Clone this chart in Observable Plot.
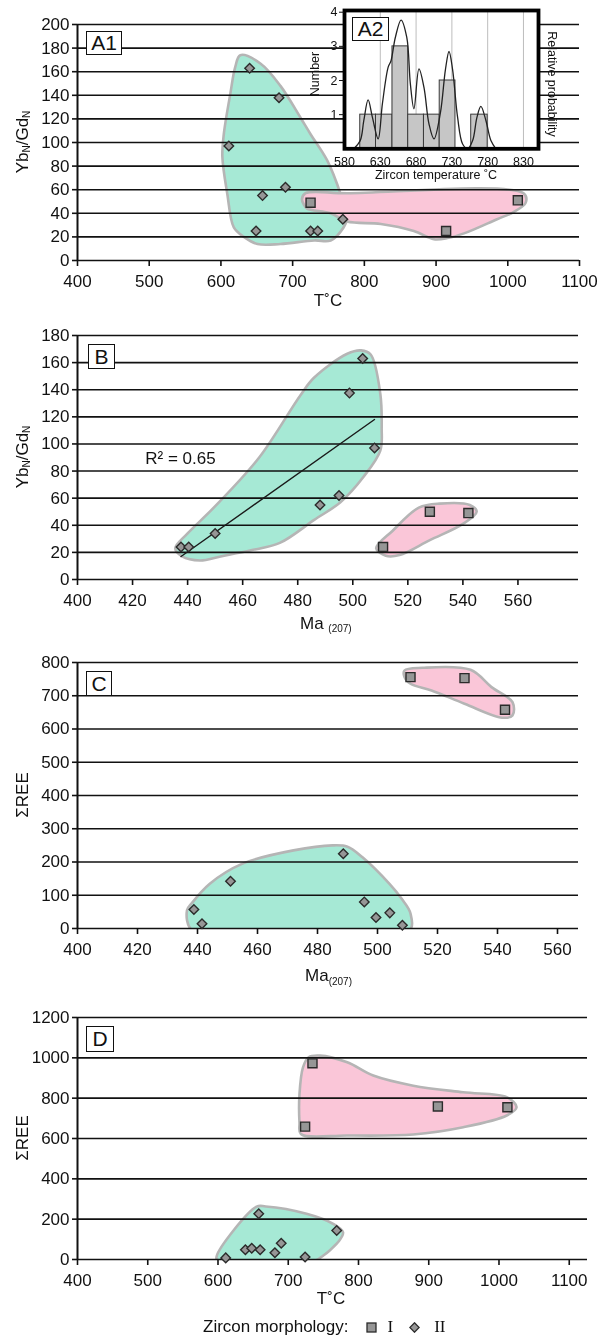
<!DOCTYPE html>
<html>
<head>
<meta charset="utf-8">
<script src="https://cdn.jsdelivr.net/npm/d3@7"></script>
<script src="https://cdn.jsdelivr.net/npm/@observablehq/plot@0.6"></script>
<style>
  html, body { margin: 0; padding: 0; background: #fff; }
  #wrap { position: relative; width: 599px; height: 1337px; overflow: hidden;
          font-family: "Liberation Sans", Arial, Helvetica, sans-serif; color: #111; }
  .panel { position: absolute; left: 0; }
  .panel svg { display: block; }
  .tag { position: absolute; box-sizing: border-box; border: 1.6px solid #111; background: #fff;
         font-size: 21px; display: flex; align-items: center; justify-content: center; }
  #legend { position: absolute; left: 203px; top: 1316px; height: 22px; font-size: 17px;
            display: flex; align-items: center; white-space: nowrap; }
  .roman { font-family: "Liberation Serif", "DejaVu Serif", serif; }
</style>
</head>
<body>
<div id="wrap"></div>
<script>
// ================= DATA =================
// ---- Panel A1: Yb_N/Gd_N vs T(°C)
const a1XTicks = [400, 500, 600, 700, 800, 900, 1000, 1100];
const a1YTicks = [0, 20, 40, 60, 80, 100, 120, 140, 160, 180, 200];
const a1DiamondT  = [611, 640, 649, 658, 681, 690, 725, 735, 770];
const a1DiamondYb = [97, 163, 25, 55, 138, 62, 25, 25, 35];
const a1SquareT   = [725, 914, 1014];
const a1SquareYb  = [49, 25, 51];
const a1GreenHull = [[627,174],[655,167],[683,148],[711,121],[725,107],[748,85],[767,56],[776,36],[771,28],[753,17],[730,17],[683,14],[651,14],[632,20],[618,28],[609,56],[602,88],[604,107],[613,141],[620,164]];
const a1PinkHull  = [[713,52],[718,57],[776,57],[1022,57],[1025,49],[1008,41],[985,35],[939,23],[916,19],[897,18],[869,25],[823,31],[776,33],[753,40],[720,44],[716,47]];

// ---- Panel A2 (inset): zircon temperature histogram + probability curve
const a2XTicks = [580, 630, 680, 730, 780, 830];
const a2YTicks = [1, 2, 3, 4];
const a2BinStart = [602, 624, 647, 669, 691, 713, 757];
const a2BinEnd   = [624, 647, 669, 691, 713, 735, 780];
const a2Count    = [1, 1, 3, 1, 1, 2, 1];
const a2CurveT = [593, 602, 607, 613, 619, 627, 633, 641, 645, 651, 659, 667, 672, 677, 684, 691, 698, 705, 714, 721, 726, 731, 738, 745, 752, 759, 765, 770.5, 777.5, 784.5, 791.5];
const a2CurveP = [0, 0.24, 0.83, 1.43, 0.92, 0.29, 1.33, 2.39, 2.58, 3.26, 3.77, 3.26, 1.9, 1.17, 2.34, 1.8, 0.73, 0.29, 1.06, 2.32, 2.85, 2.32, 0.92, 0.14, 0, 0.24, 0.92, 1.24, 0.83, 0.24, 0];

// ---- Panel B: Yb_N/Gd_N vs Ma(207)
const bXTicks = [400, 420, 440, 460, 480, 500, 520, 540, 560];
const bYTicks = [0, 20, 40, 60, 80, 100, 120, 140, 160, 180];
const bDiamondAge = [437.6, 440.4, 450, 488.1, 495, 498.8, 503.6, 507.9];
const bDiamondYb  = [24, 24, 34, 55, 62, 137.5, 163, 97];
const bSquareAge  = [511, 528, 542];
const bSquareYb   = [24, 50, 49];
const bGreenHull = [[435.5,23],[440,34],[449.5,53],[466,90],[481,136],[486,149],[498,166.5],[503,169],[506.5,166],[510,137],[510.5,112],[510,95],[504,76],[495.5,57],[486,44],[473.5,27],[463,21.5],[452,17],[444.5,14],[438,17]];
const bPinkHull  = [[508.5,23],[512,17.5],[517,18],[528,29],[540,41],[545,50],[542.5,55],[531.5,56],[524,53],[514.5,36]];
const bR2Label = "R² = 0.65";

// ---- Panel C: ΣREE vs Ma(207)
const cXTicks = [400, 420, 440, 460, 480, 500, 520, 540, 560];
const cYTicks = [0, 100, 200, 300, 400, 500, 600, 700, 800];
const cDiamondAge = [438.8, 441.5, 451, 488.6, 495.6, 499.5, 504.1, 508.3];
const cDiamondREE = [57, 14, 142, 225, 80, 33, 47, 10];
const cSquareAge  = [511, 529, 542.5];
const cSquareREE  = [756, 753, 658];
const cGreenHull = [[438.5,-8],[436.5,55],[438,75],[444,134],[455,195],[472,235],[485,250],[490,246],[495,214],[504,134],[508,90],[511,45],[510.5,-8]];
const cPinkHull  = [[509,776],[515,784],[531,778],[538,726],[545,681],[545,641],[541.5,634],[529,676],[518,716],[511,736],[509,756]];

// ---- Panel D: ΣREE vs T(°C)
const dXTicks = [400, 500, 600, 700, 800, 900, 1000, 1100];
const dYTicks = [0, 200, 400, 600, 800, 1000, 1200];
const dDiamondT   = [611, 639, 648, 660, 658, 681, 690, 724, 769];
const dDiamondREE = [8, 48, 56, 48, 227, 33, 81, 12, 144];
const dSquareT    = [734.5, 913, 1012, 724];
const dSquareREE  = [973, 759, 755, 659];
const dGreenHull = [[600,-10],[598,15],[655,262],[668,263],[726,227],[764,177],[778,135],[773,95],[759,45],[750,20],[735,-10]];
const dPinkHull  = [[729,1003],[745,1011],[784,978],[821,912],[878,862],[949,829],[1011,805],[1025,755],[1011,714],[949,656],[878,620],[784,615],[718,622],[716,680],[716,820],[721,953]];

// ---- Legend
const legendTitle = "Zircon morphology:";
const morphologyLabels = ["I", "II"];

// ================= STYLE =================
const FONT = '"Liberation Sans", Arial, Helvetica, sans-serif';
const INK = "#111";
const GREEN = "#a6e9d5", PINK = "#fac6d8", HULL_STROKE = "#b5b5b5";
const PT_FILL = "#969696", PT_STROKE = "#2b2b2b";
const plain = d => String(d);
const wrap = document.getElementById("wrap");

function rows(xs, ys) { return xs.map((x, i) => ({x, y: ys[i]})); }
function hullMark(pts, fill, blend) {
  const o = {x: d => d[0], y: d => d[1], curve: "catmull-rom-closed", fill,
             stroke: HULL_STROKE, strokeWidth: 2.6, clip: true};
  if (blend) o.mixBlendMode = blend;
  return Plot.line(pts, o);
}
function squareMark(xs, ys) {
  return Plot.dot(rows(xs, ys), {x: "x", y: "y", symbol: "square", r: 5.1,
    fill: PT_FILL, stroke: PT_STROKE, strokeWidth: 1.4});
}
function diamondMark(xs, ys) {
  return Plot.dot(rows(xs, ys), {x: "x", y: "y", symbol: "diamond2", r: 4.3,
    fill: PT_FILL, stroke: PT_STROKE, strokeWidth: 1.4});
}
function svgText(svg, x, y, html, opts = {}) {
  d3.select(svg).append("text")
    .attr("transform", `translate(${x},${y}) rotate(${opts.rotate || 0})`)
    .attr("text-anchor", opts.anchor || "middle")
    .attr("dominant-baseline", "central")
    .attr("font-size", opts.size || 17)
    .attr("fill", INK)
    .html(html);
}
function tag(text, left, top, w, h) {
  const d = document.createElement("div");
  d.className = "tag"; d.textContent = text;
  Object.assign(d.style, {left: left + "px", top: top + "px", width: w + "px", height: h + "px"});
  wrap.appendChild(d);
}
function makePanel(c) {
  const marks = [
    ...c.hulls,
    Plot.ruleY(c.yTicks, {stroke: INK, strokeWidth: 1.6}),
    Plot.ruleX([c.xDomain[0]], {stroke: INK, strokeWidth: 2}),
    Plot.axisY(c.yTicks, {tickSize: 5, tickPadding: 3, label: null, strokeWidth: 1.6, tickFormat: plain, fontSize: 17}),
    Plot.axisX(c.xTicks, {tickSize: 6, tickPadding: 8, label: null, strokeWidth: 1.6, tickFormat: plain, fontSize: 17}),
    ...(c.extra || []),
    ...c.points
  ];
  const svg = Plot.plot({
    width: 599, height: c.height,
    marginLeft: 77, marginRight: c.mr, marginTop: c.mt, marginBottom: c.mb,
    x: {domain: c.xDomain}, y: {domain: c.yDomain},
    style: {fontFamily: FONT, fontSize: "17px", color: INK, background: "transparent", overflow: "visible"},
    marks
  });
  const div = document.createElement("div");
  div.className = "panel"; div.style.top = c.top + "px"; div.style.left = (c.left || 0) + "px";
  div.appendChild(svg); wrap.appendChild(div);
  return svg;
}

// ================= PANEL A1 =================
const svgA1 = makePanel({
  top: 0, height: 310, mt: 24, mb: 50, mr: 20,
  xDomain: [400, 1100], yDomain: [0, 200], xTicks: a1XTicks, yTicks: a1YTicks,
  hulls: [hullMark(a1GreenHull, GREEN), hullMark(a1PinkHull, PINK, "multiply")],
  points: [squareMark(a1SquareT, a1SquareYb), diamondMark(a1DiamondT, a1DiamondYb)]
});
svgText(svgA1, 22, 142, 'Yb<tspan font-size="10" dy="4">N</tspan><tspan dy="-4">/Gd</tspan><tspan font-size="10" dy="4">N</tspan>', {rotate: -90});
svgText(svgA1, 328, 300, "T˚C");

// ================= PANEL A2 (inset) =================
const a2Bins = a2BinStart.map((s, i) => ({x1: s, x2: a2BinEnd[i], n: a2Count[i]}));
const a2Curve = rows(a2CurveT, a2CurveP);
const svgA2 = Plot.plot({
  width: 270, height: 185, marginLeft: 44, marginRight: 32, marginTop: 10, marginBottom: 36.7,
  x: {domain: [580, 851]}, y: {domain: [0, 4.05]},
  style: {fontFamily: FONT, fontSize: "12.5px", color: INK, background: "transparent", overflow: "visible"},
  marks: [
    Plot.frame({fill: "white", stroke: "none"}),
    Plot.ruleX(a2XTicks.slice(1), {stroke: "#bdbdbd", strokeWidth: 1}),
    Plot.rect(a2Bins, {x1: "x1", x2: "x2", y1: () => 0, y2: "n", fill: "#c6c6c6", stroke: "#3a3a3a", strokeWidth: 1}),
    Plot.line(a2Curve, {x: "x", y: "y", curve: "catmull-rom", stroke: "#222", strokeWidth: 1.3}),
    Plot.frame({stroke: "#000", strokeWidth: 3.8}),
    Plot.axisY(a2YTicks, {tickSize: 5, tickPadding: 2, label: null, strokeWidth: 1, tickFormat: plain, fontSize: 12.5}),
    Plot.axisX(a2XTicks, {tickSize: 0, tickPadding: 8, label: null, tickFormat: plain, fontSize: 12.5})
  ]
});
{
  const div = document.createElement("div");
  div.className = "panel"; div.style.top = "0px"; div.style.left = "300px";
  div.appendChild(svgA2); wrap.appendChild(div);
}
svgText(svgA2, 15, 74, "Number", {rotate: -90, size: 12.5});
svgText(svgA2, 252, 84, "Relative probability", {rotate: 90, size: 12.5});
svgText(svgA2, 136, 175, "Zircon temperature ˚C", {size: 12.5});

// ================= PANEL B =================
const svgB = makePanel({
  top: 310, height: 320, mt: 25, mb: 51, mr: 21,
  xDomain: [400, 582], yDomain: [0, 180], xTicks: bXTicks, yTicks: bYTicks,
  hulls: [hullMark(bGreenHull, GREEN), hullMark(bPinkHull, PINK)],
  extra: [
    Plot.linearRegressionY(rows(bDiamondAge, bDiamondYb), {x: "x", y: "y", ci: 0, stroke: "#1a1a1a", strokeWidth: 1.4}),
    Plot.text([bR2Label], {x: 437.4, y: 89.3, text: d => d, fontSize: 17, fill: INK})
  ],
  points: [squareMark(bSquareAge, bSquareYb), diamondMark(bDiamondAge, bDiamondYb)]
});
svgText(svgB, 22, 147, 'Yb<tspan font-size="10" dy="4">N</tspan><tspan dy="-4">/Gd</tspan><tspan font-size="10" dy="4">N</tspan>', {rotate: -90});
svgText(svgB, 300, 313, 'Ma <tspan font-size="10" dy="5">(207)</tspan>', {anchor: "start"});

// ================= PANEL C =================
const svgC = makePanel({
  top: 630, height: 330, mt: 32, mb: 32, mr: 21,
  xDomain: [400, 567], yDomain: [0, 800], xTicks: cXTicks, yTicks: cYTicks,
  hulls: [hullMark(cGreenHull, GREEN), hullMark(cPinkHull, PINK)],
  points: [squareMark(cSquareAge, cSquareREE), diamondMark(cDiamondAge, cDiamondREE)]
});
svgText(svgC, 22, 165, "ΣREE", {rotate: -90});
svgText(svgC, 305, 345, 'Ma<tspan font-size="10" dy="6">(207)</tspan>', {anchor: "start"});

// ================= PANEL D =================
const svgD = makePanel({
  top: 960, height: 360, mt: 57, mb: 61, mr: 12,
  xDomain: [400, 1126], yDomain: [0, 1200], xTicks: dXTicks, yTicks: dYTicks,
  hulls: [hullMark(dGreenHull, GREEN), hullMark(dPinkHull, PINK)],
  points: [squareMark(dSquareT, dSquareREE), diamondMark(dDiamondT, dDiamondREE)]
});
svgText(svgD, 22, 178, "ΣREE", {rotate: -90});
svgText(svgD, 331, 338, "T˚C");

// ================= PANEL TAGS =================
tag("A1", 86, 31, 36, 24);
tag("A2", 352, 17, 37, 24);
tag("B", 88, 344, 27, 25);
tag("C", 86, 671, 26, 25);
tag("D", 86, 1026, 28, 26);

// ================= LEGEND =================
{
  const lg = document.createElement("div");
  lg.id = "legend";
  const t = document.createElement("span"); t.textContent = legendTitle; lg.appendChild(t);
  const sym = [
    '<svg width="11" height="11" style="margin-left:17px"><rect x="1" y="1" width="9" height="9" fill="' + PT_FILL + '" stroke="' + PT_STROKE + '" stroke-width="1.3"/></svg>',
    '<svg width="11" height="11" style="margin-left:16px"><path d="M5.5,0.8L10.2,5.5L5.5,10.2L0.8,5.5Z" fill="' + PT_FILL + '" stroke="' + PT_STROKE + '" stroke-width="1.3"/></svg>'
  ];
  morphologyLabels.forEach((lab, i) => {
    lg.insertAdjacentHTML("beforeend", sym[i]);
    const s = document.createElement("span");
    s.className = "roman"; s.textContent = lab; s.style.marginLeft = i === 0 ? "11px" : "14px";
    lg.appendChild(s);
  });
  wrap.appendChild(lg);
}
</script>
</body>
</html>
